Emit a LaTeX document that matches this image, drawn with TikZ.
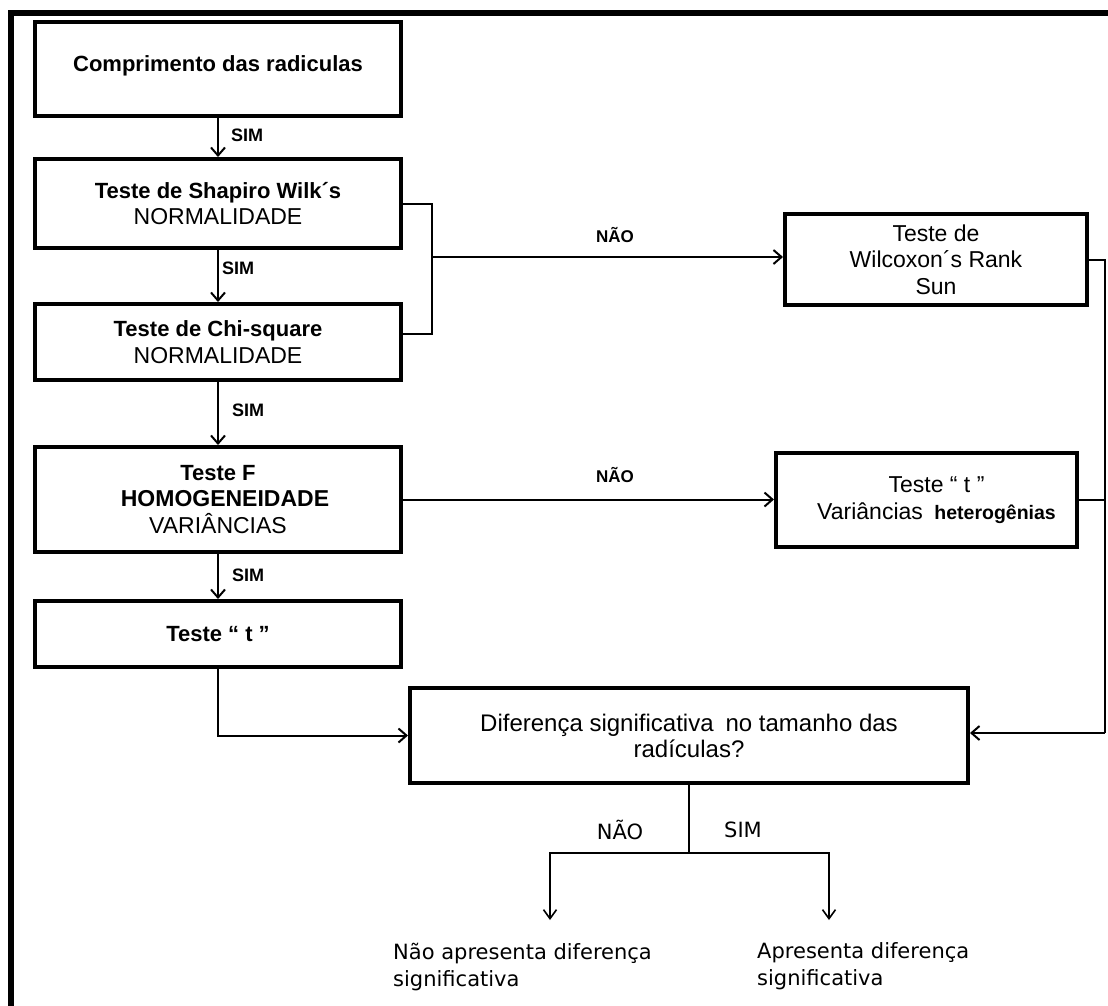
\documentclass[tikz,border=0pt]{standalone}
\usepackage{fontspec}
\setmainfont{Liberation Sans}
\newfontfamily\resultfont{DejaVu Sans}
\usetikzlibrary{arrows.meta}
\begin{document}
\begin{tikzpicture}[x=1pt,y=-1pt,
  stepbox/.style={draw, line width=4pt, rectangle, inner sep=0pt, align=center,
    font=\fontsize{23}{26.5}\selectfont},
  link/.style={line width=2pt},
  arr/.style={link, -{Straight Barb[length=8pt,width=14pt]}},
  thinarr/.style={line width=1.6pt, -{Straight Barb[length=9pt,width=13pt]}},
  yes/.style={font=\bfseries\fontsize{18}{20}\selectfont, anchor=west, inner sep=0pt},
  no/.style={font=\bfseries\fontsize{17}{20}\selectfont, inner sep=0pt},
  branch/.style={font=\resultfont\fontsize{21}{24}\selectfont, inner sep=0pt},
  result/.style={font=\resultfont\fontsize{21}{27}\selectfont, align=left, anchor=west, inner sep=0pt},
  frame/.style={line width=6pt}
]
\newcommand\hd[1]{{\bfseries\fontsize{22}{26.5}\selectfont #1}}
\useasboundingbox (0,0) rectangle (1108,1005);

% outer frame (top and left edges)
\draw[frame] (11,1010) -- (11,13) -- (1112,13);

% main column
\node[stepbox, minimum width=366pt, minimum height=94pt, text depth=10pt] (b1) at (218,69)
  {\hd{Comprimento das radiculas}};
\node[stepbox, minimum width=366pt, minimum height=89pt] (b2) at (218,203.5)
  {\hd{Teste de Shapiro Wilk´s}\\NORMALIDADE};
\node[stepbox, minimum width=366pt, minimum height=76pt] (b3) at (218,342)
  {\hd{Teste de Chi-square}\\NORMALIDADE};
\node[stepbox, minimum width=366pt, minimum height=105pt] (b4) at (218,499.5)
  {\hd{Teste F}\\\hspace*{14pt}{\bfseries\fontsize{23}{26.5}\selectfont HOMOGENEIDADE}\\VARIÂNCIAS};
\node[stepbox, minimum width=366pt, minimum height=66pt] (b5) at (218,634)
  {\hd{Teste “ t ”}};

% right column
\node[stepbox, minimum width=302pt, minimum height=91pt] (bw) at (936,259.5)
  {Teste de\\Wilcoxon´s Rank\\Sun};
\node[stepbox, minimum width=301pt, minimum height=94pt] (bh) at (926.5,500)
  {\hspace*{20pt}Teste “ t ”\\\hspace*{20pt}Variâncias\enspace{\bfseries\fontsize{19.5}{22}\selectfont heterogênias}};

% decision
\node[stepbox, minimum width=558pt, minimum height=95pt, font=\fontsize{24}{26}\selectfont] (bd) at (689,735.5)
  {Diferença significativa\enspace no tamanho das\\radículas?};

% vertical flow
\draw[arr] (b1.south) -- (b2.north);
\draw[arr] (b2.south) -- (b3.north);
\draw[arr] (b3.south) -- (b4.north);
\draw[arr] (b4.south) -- (b5.north);
\node[yes] (s1) at (231,135) {SIM};
\node[yes] (s2) at (222,268) {SIM};
\node[yes] (s3) at (232,410) {SIM};
\node[yes] (s4) at (232,575) {SIM};

% normality bracket
\coordinate (brk) at (432,257);
\draw[link] (b2.east) -| (brk) |- ([yshift=8pt]b3.east);
\draw[arr] (brk) -- (brk -| bw.west);
\node[no] (n1) at (615,235) {NÃO};

% variance branch
\draw[arr] (b4.east) -- (b4.east -| bh.west);
\node[no] (n2) at (615,475) {NÃO};

% collectors into the decision
\coordinate (rc) at (1105,733);
\draw[link] (bw.east) -| (rc);
\draw[link] (bh.east) -- (bh.east -| rc);
\draw[arr] (rc) -- (rc -| bd.east);
\draw[arr] (b5.south) |- (bd.west);

% outcome split
\coordinate (split) at (689,853);
\coordinate (noend) at (550,920);
\coordinate (yesend) at (829,920);
\draw[link] (bd.south) -- (split);
\draw[thinarr] (split) -| (noend);
\draw[thinarr] (split) -| (yesend);
\node[branch] (n3) at (620,830) {NÃO};
\node[branch] (s5) at (743,830) {SIM};

\node[result] (r1) at (393,967) {Não apresenta diferença\\significativa};
\node[result] (r2) at (757,966) {Apresenta diferença\\significativa};
\end{tikzpicture}
\end{document}
